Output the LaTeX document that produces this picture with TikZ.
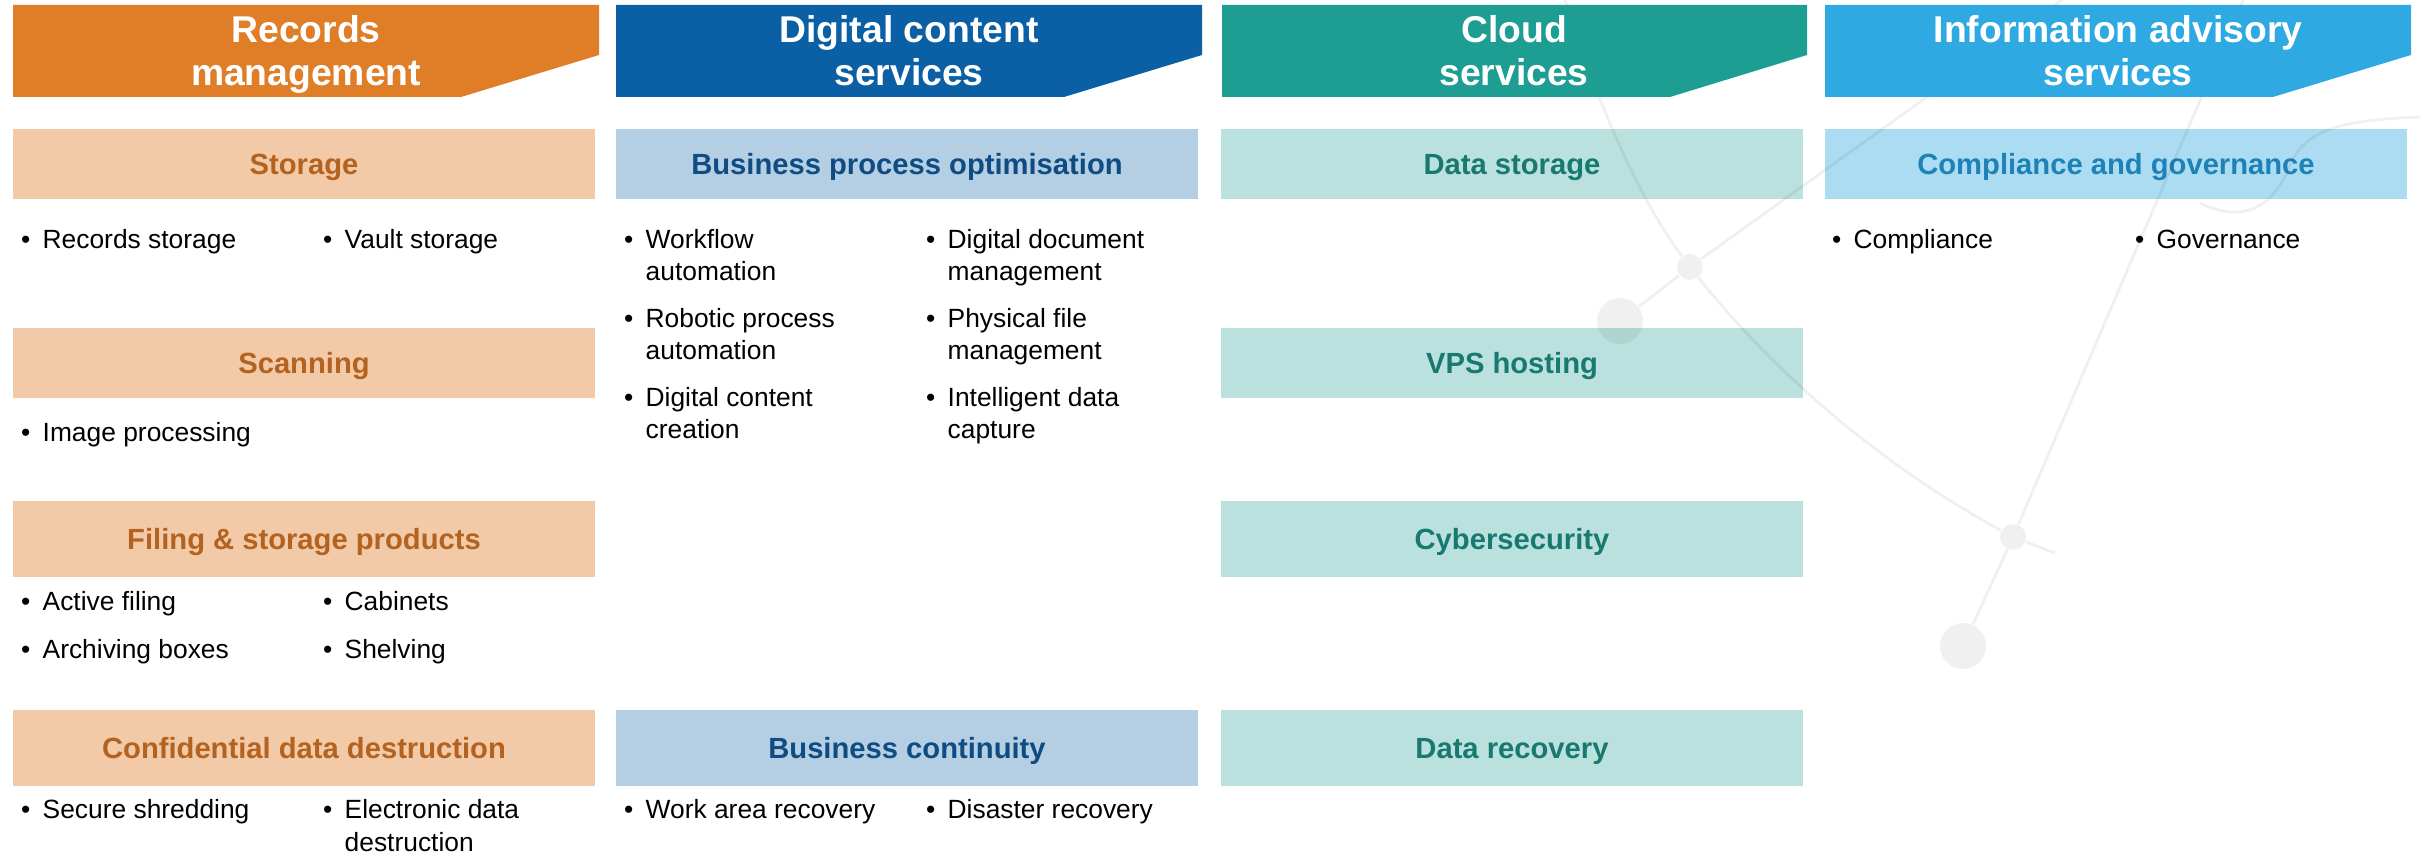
\documentclass[tikz,border=0pt]{standalone}
\usepackage{fontspec}
\setmainfont{Liberation Sans}
\usepackage{xcolor}
\usepackage{tikz}
\definecolor{orangeF}{HTML}{E07E27}
\definecolor{orangeC}{HTML}{F3CAA7}
\definecolor{orangeT}{HTML}{B3621F}
\definecolor{bleuF}{HTML}{0B5FA5}
\definecolor{bleuC}{HTML}{B4CFE4}
\definecolor{bleuT}{HTML}{0F4C81}
\definecolor{vertF}{HTML}{1E9E92}
\definecolor{vertC}{HTML}{BBE1DE}
\definecolor{vertT}{HTML}{17796F}
\definecolor{cielF}{HTML}{2EA9E1}
\definecolor{cielC}{HTML}{ABDCF2}
\definecolor{cielT}{HTML}{1E82B6}
\newcommand{\lignes}[2][l]{\begin{tabular}[t]{@{}#1@{}}#2\end{tabular}}
\newcommand{\puce}[1]{\llap{\textbullet\hspace{3.5pt}}\lignes{#1}}
\tikzset{
    titre/.style = {anchor=base, inner sep=0pt, text=white, font=\fontsize{10.6}{12.2}\selectfont\bfseries},
    rubrique/.style = {minimum width=5.82cm, minimum height=7mm, inner sep=0pt, text height=5.9pt, text depth=0pt, font=\fontsize{8.3}{10}\selectfont\bfseries},
    liste/.style = {anchor=base west, inner sep=0pt, font=\fontsize{7.5}{9.1}\selectfont},
    c1/.style = {fill=orangeC, text=orangeT},
    c2/.style = {fill=bleuC, text=bleuT},
    c3/.style = {fill=vertC, text=vertT},
    c4/.style = {fill=cielC, text=cielT},
    reseau/.style = {draw=black, draw opacity=0.06, line width=0.8pt},
    noeud/.style = {circle, fill=black, fill opacity=0.06, inner sep=0pt}
}

\begin{document}
\begin{tikzpicture}[x=0.01cm, y=-0.01cm]
                \useasboundingbox (0,0) rectangle (2420,852);
                % colonne A
                \node (1A) [rubrique, c1] at (304,164) {Storage};
                \node (1A1) [liste] at (42,249) {\puce{Records storage}};
                \node (1A2) [liste] at (344,249) {\puce{Vault storage}};
                \node (2A) [rubrique, c1] at (304,363) {Scanning};
                \node (2A1) [liste] at (42,442) {\puce{Image processing}};
                \node (3A) [rubrique, c1, minimum height=7.6mm] at (304,539) {Filing \& storage products};
                \node (3A1) [liste] at (42,611) {\puce{Active filing}};
                \node (3A2) [liste] at (344,611) {\puce{Cabinets}};
                \node (3A3) [liste] at (42,659) {\puce{Archiving boxes}};
                \node (3A4) [liste] at (344,659) {\puce{Shelving}};
                \node (4A) [rubrique, c1, minimum height=7.5mm] at (304,748) {Confidential data destruction};
                \node (4A1) [liste] at (42,819) {\puce{Secure shredding}};
                \node (4A2) [liste] at (344,819) {\puce{Electronic data\\destruction}};
                % colonne B
                \node (1B) [rubrique, c2] at (907,164) {Business process optimisation};
                \node (1B1) [liste] at (645,249) {\puce{Workflow\\automation}};
                \node (1B2) [liste] at (947,249) {\puce{Digital document\\management}};
                \node (1B3) [liste] at (645,328) {\puce{Robotic process\\automation}};
                \node (1B4) [liste] at (947,328) {\puce{Physical file\\management}};
                \node (1B5) [liste] at (645,407) {\puce{Digital content\\creation}};
                \node (1B6) [liste] at (947,407) {\puce{Intelligent data\\capture}};
                \node (4B) [rubrique, c2, minimum height=7.5mm] at (907,748) {Business continuity};
                \node (4B1) [liste] at (645,819) {\puce{Work area recovery}};
                \node (4B2) [liste] at (947,819) {\puce{Disaster recovery}};
                % colonne C
                \node (1C) [rubrique, c3] at (1512,164) {Data storage};
                \node (2C) [rubrique, c3] at (1512,363) {VPS hosting};
                \node (3C) [rubrique, c3, minimum height=7.6mm] at (1512,539) {Cybersecurity};
                \node (4C) [rubrique, c3, minimum height=7.5mm] at (1512,748) {Data recovery};
                % colonne D
                \node (1D) [rubrique, c4] at (2116,164) {Compliance and governance};
                \node (1D1) [liste] at (1853,249) {\puce{Compliance}};
                \node (1D2) [liste] at (2156,249) {\puce{Governance}};
                % reseau en fond
                \node (n1) [noeud, minimum size=0.46cm] at (1620,321) {};
                \node (n2) [noeud, minimum size=0.26cm] at (1690,267) {};
                \node (n3) [noeud, minimum size=0.26cm] at (2013,537) {};
                \node (n4) [noeud, minimum size=0.46cm] at (1963,646) {};
                \coordinate (a0) at (1565,0);
                \coordinate (a1) at (2055,553);
                \coordinate (b1) at (2062,0);
                \coordinate (c1) at (2243,0);
                \draw[reseau] (a0) .. controls (1600,110) and (1640,200) .. (n2);
                \draw[reseau] (n2) .. controls (1780,380) and (1890,470) .. (n3);
                \draw[reseau] (n3) -- (a1);
                \draw[reseau] (n1) -- (n2) -- (b1);
                \draw[reseau] (n4) -- (n3) -- (c1);
                \draw[reseau] (2420,117) .. controls (2340,120) and (2305,130) .. (2290,165)
                    .. controls (2275,205) and (2245,225) .. (2200,203);
                % bandeaux
                \fill[orangeF] (13,5) -- (599,5) -- (599,55) -- (461,97) -- (13,97) -- cycle;
                \fill[bleuF] (616,5) -- (1202,5) -- (1202,55) -- (1064,97) -- (616,97) -- cycle;
                \fill[vertF] (1222,5) -- (1807,5) -- (1807,55) -- (1670,97) -- (1222,97) -- cycle;
                \fill[cielF] (1825,5) -- (2411,5) -- (2411,55) -- (2273,97) -- (1825,97) -- cycle;
                \node (0A) [titre] at (306,43) {\lignes[c]{Records\\management}};
                \node (0B) [titre] at (909,43) {\lignes[c]{Digital content\\services}};
                \node (0C) [titre] at (1514,43) {\lignes[c]{Cloud\\services}};
                \node (0D) [titre] at (2118,43) {\lignes[c]{Information advisory\\services}};
            \end{tikzpicture}
\end{document}
